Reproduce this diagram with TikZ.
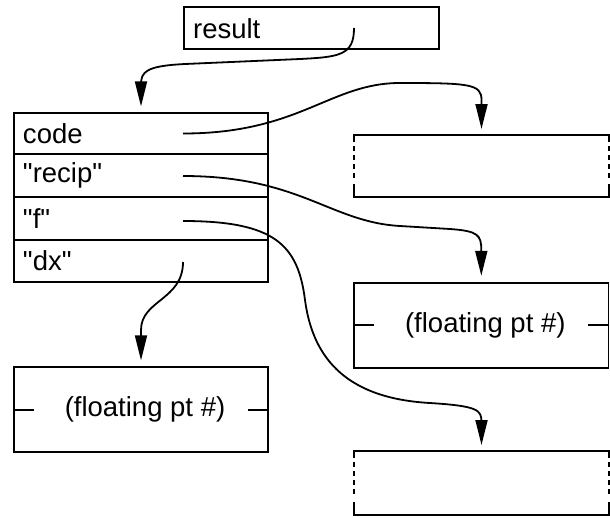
\documentclass[tikz,border=0pt]{standalone}
\usepackage{fontspec}
\setmainfont{Liberation Sans}[Ligatures=TeXOff]
\usetikzlibrary{arrows.meta}

% A box whose upright sides are broken (dashed) between solid corner stubs
\newcommand\brokenbox[1]{%
  \draw ([yshift=-7pt]#1.north west) -- (#1.north west) -- (#1.north east) -- ([yshift=-7pt]#1.north east);
  \draw ([yshift=13pt]#1.south west) -- (#1.south west) -- (#1.south east) -- ([yshift=13pt]#1.south east);
  \draw[dash pattern=on 4.5pt off 4.5pt] ([yshift=-11pt]#1.north west) -- ([yshift=17pt]#1.south west);
  \draw[dash pattern=on 4.5pt off 4.5pt] ([yshift=-11pt]#1.north east) -- ([yshift=17pt]#1.south east);}

\begin{document}
\begin{tikzpicture}[x=1pt, y=-1pt, line width=1.8pt,
  font=\fontsize{27.5}{32}\selectfont,
  cell/.style={draw, rectangle, inner xsep=9pt, inner ysep=0pt, text width=#1,
               align=left, anchor=center},
  numbox/.style={draw, rectangle, inner sep=0pt, minimum width=254.5pt, minimum height=85pt},
  blank/.style={rectangle, inner sep=0pt, outer sep=0pt, minimum width=255pt},
  ptr/.style={-{Triangle[length=25pt, width=12pt]}, shorten >=6pt}]

  \useasboundingbox (0,0) rectangle (610,517);

  % variable holding the closure
  \node[cell=237pt, minimum height=42pt] (result) at (311.6,28.3) {result};

  % the closure record
  \node[cell=236pt, minimum height=41pt]   (code)  at (141,133.8) {code};
  \node[cell=236pt, minimum height=42.4pt] (recip) at (141,175.5) {"recip"};
  \node[cell=236pt, minimum height=43.3pt] (fname) at (141,218.35) {"f"};
  \node[cell=236pt, minimum height=41.7pt] (dx)    at (141,260.85) {"dx"};

  % code object and the other referenced objects
  \node[blank, minimum height=62pt] (codeobj) at (481.5,166) {};
  \brokenbox{codeobj}
  \node[numbox] (num1) at (481.3,325.2) {\hspace*{8pt}(floating pt \#)};
  \draw (num1.west) -- ++(21,0);
  \draw (num1.east) -- ++(-21,0);
  \node[blank, minimum height=64pt] (fobj) at (481.5,483) {};
  \brokenbox{fobj}
  \node[numbox, minimum width=254pt] (num2) at (141,409.8) {\hspace*{8pt}(floating pt \#)};
  \draw (num2.west) -- ++(21,0);
  \draw (num2.east) -- ++(-21,0);

  % pointer origins
  \coordinate (presult) at (354,28);
  \coordinate (pcode)   at (183,133.5);
  \coordinate (precip)  at (183,176);
  \coordinate (pf)      at (183,221);
  \coordinate (pdx)     at (183,262);

  % pointers
  \draw[ptr] (presult) .. controls (354,55) and (340,57) .. (300,59) -- (185,64)
             .. controls (145,66) and (141,72) .. (141,85) -- (code.north);
  \draw[ptr] (pcode) .. controls (300,133.5) and (330,83) .. (400,83)
             .. controls (470,83) and (481.5,84) .. (481.5,100) -- (codeobj.north);
  \draw[ptr] (precip) .. controls (300,176) and (330,222) .. (400,226) -- (450,229)
             .. controls (478,231) and (481.3,235) .. (481.3,250) -- (num1.north);
  \draw[ptr] (pf) .. controls (275,221) and (298,245) .. (305,300)
             .. controls (312,352) and (340,398) .. (430,403)
             .. controls (478,406) and (481.5,410) .. (481.5,422) -- (fobj.north);
  \draw[ptr] (pdx) .. controls (183,300) and (141,300) .. (141,330) -- (num2.north);
\end{tikzpicture}
\end{document}
